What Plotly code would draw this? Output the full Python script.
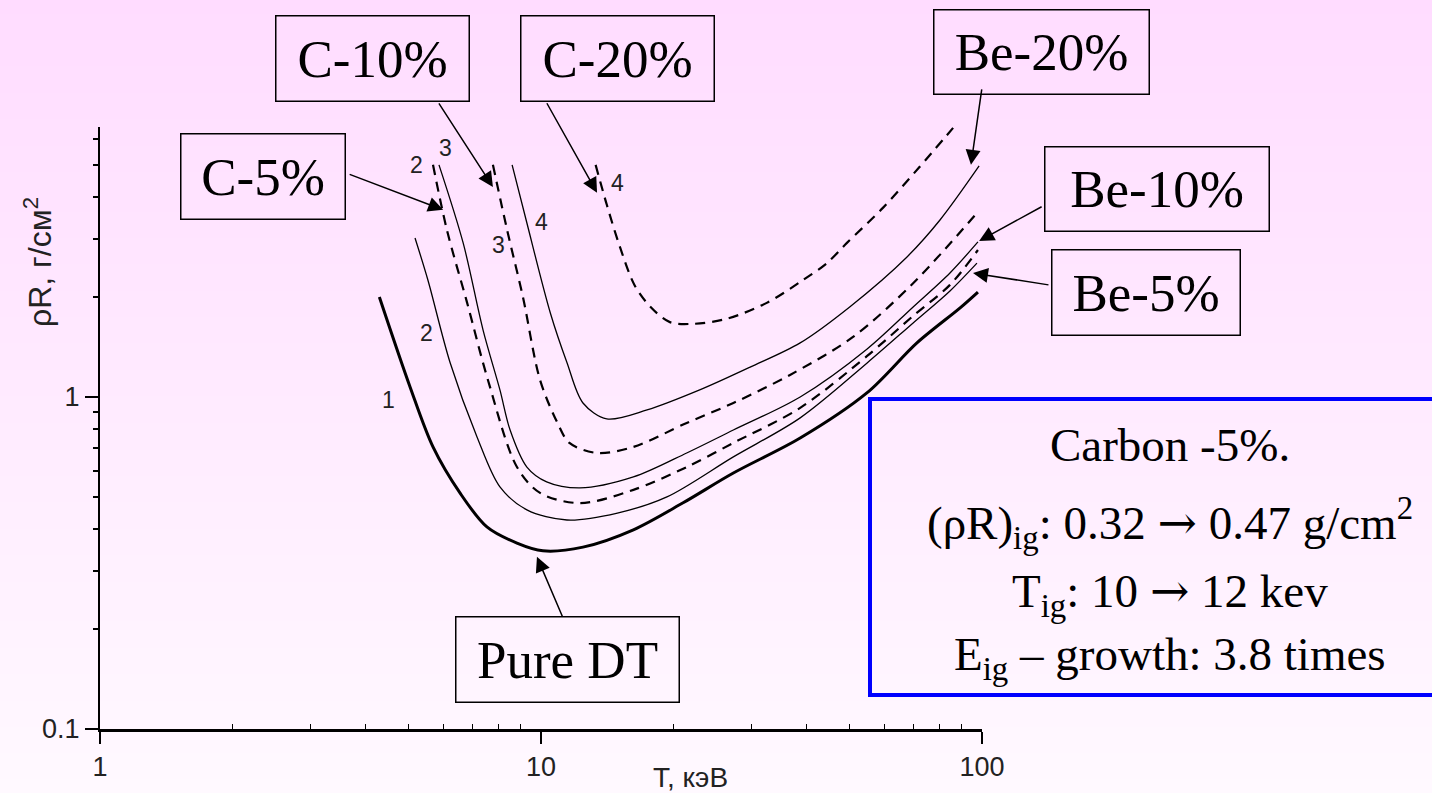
import plotly.graph_objects as go
import numpy as np

# ---------------- data ----------------
T_DT = [4.30, 5.05, 5.69, 6.55, 7.54, 8.82, 10.1, 12.45, 16.2, 21.0, 27.3, 38.7, 54.9, 71.2, 89.2, 97.9]
R_DT = [2.00, 1.07, 0.707, 0.514, 0.406, 0.363, 0.344, 0.353, 0.398, 0.480, 0.590, 0.752, 1.03, 1.455, 1.855, 2.07]

T_BE5 = [5.18, 5.54, 6.22, 7.16, 8.07, 9.29, 11.45, 14.9, 19.3, 27.3, 38.7, 54.9, 69.8, 84.6, 97.4]
R_BE5 = [3.01, 2.25, 1.27, 0.758, 0.536, 0.457, 0.426, 0.447, 0.500, 0.660, 0.865, 1.266, 1.671, 2.086, 2.53]

T_C5 = [5.69, 6.12, 6.80, 7.58, 8.82, 9.95, 12.26, 16.2, 21.4, 27.3, 38.7, 54.9, 69.8, 84.6, 97.9]
R_C5 = [5.00, 3.18, 1.92, 1.125, 0.615, 0.514, 0.479, 0.525, 0.615, 0.727, 0.927, 1.329, 1.754, 2.175, 2.77]

T_BE10 = [5.87, 6.66, 7.39, 8.07, 8.51, 9.29, 10.3, 12.26, 16.2, 21.4, 27.3, 38.7, 54.9, 69.8, 84.6, 97.9]
R_BE10 = [5.00, 2.91, 1.59, 1.05, 0.795, 0.615, 0.555, 0.532, 0.574, 0.678, 0.795, 1.00, 1.395, 1.867, 2.363, 2.93]

T_C10 = [7.78, 8.38, 9.10, 9.95, 10.9, 11.6, 13.4, 16.2, 21.4, 27.3, 36.7, 51.0, 69.8, 97.9]
R_C10 = [5.00, 3.18, 2.00, 1.125, 0.835, 0.727, 0.678, 0.707, 0.835, 0.959, 1.165, 1.516, 2.20, 3.61]

T_BE20 = [8.60, 9.29, 10.5, 11.45, 12.45, 14.1, 17.4, 22.9, 29.8, 38.7, 50.2, 67.6, 80.3, 98.5]
R_BE20 = [5.00, 3.34, 1.79, 1.27, 0.959, 0.859, 0.914, 1.05, 1.23, 1.455, 1.87, 2.64, 3.41, 4.96]

T_C20 = [13.3, 14.1, 15.1, 16.3, 17.7, 19.6, 22.1, 26.4, 32.5, 39.3, 44.5, 49.4, 59.6, 71.9, 86.0]
R_C20 = [5.00, 3.79, 2.83, 2.17, 1.87, 1.68, 1.66, 1.72, 1.92, 2.25, 2.53, 2.91, 3.71, 4.90, 6.46]

x_tickvals = [1, 10, 100]
x_ticktext = ["1", "10", "100"]
y_tickvals = [0.1, 1]
y_ticktext = ["0.1", "1"]

# curve number labels: (text, T, rhoR)
num_labels = [("1", 4.50, 0.98), ("2", 5.51, 1.56), ("2", 5.23, 5.0), ("3", 6.06, 5.62),
              ("3", 7.99, 2.87), ("4", 10.0, 3.37), ("4", 14.9, 4.41)]

# ---------------- layout geometry ----------------
W, H = 1432, 793
ML, MR, MT, MB = 100, 450, 127, 64
PW, PH = W - ML - MR, H - MT - MB


def px(xp):
    return (xp - ML) / PW


def py(yp):
    return (H - MB - yp) / PH


fig = go.Figure()

thin = dict(color="black", width=1.3)
dash = dict(color="black", width=2.2, dash="10px,7px")
series = [
    (T_DT, R_DT, dict(color="black", width=3)),
    (T_BE5, R_BE5, thin),
    (T_C5, R_C5, dash),
    (T_BE10, R_BE10, thin),
    (T_C10, R_C10, dash),
    (T_BE20, R_BE20, thin),
    (T_C20, R_C20, dash),
]
for tx, ry, ln in series:
    fig.add_trace(go.Scatter(x=tx, y=ry, mode="lines", line=dict(shape="spline", smoothing=0.9, **ln),
                             showlegend=False, hoverinfo="skip"))

annotations = []
for t, xv, yv in num_labels:
    annotations.append(dict(text=t, x=np.log10(xv), y=np.log10(yv), xref="x", yref="y",
                            showarrow=False, font=dict(family="Liberation Sans, Arial", size=23, color="#222")))

serif = "Liberation Serif, Times New Roman"
# boxed labels: text, centre px, size px
boxes = [
    ("C-5%", 262.5, 176, 165, 86),
    ("C-10%", 372, 59, 194, 86),
    ("C-20%", 617, 59, 194, 86),
    ("Be-20%", 1041, 51.5, 216, 85),
    ("Be-10%", 1156.5, 188.5, 225, 85),
    ("Be-5%", 1145.5, 292, 189, 86),
    ("Pure DT", 567, 659, 224, 86),
]
for t, cx, cy, w, h in boxes:
    annotations.append(dict(text=t, x=px(cx), y=py(cy), xref="paper", yref="paper",
                            xanchor="center", yanchor="middle", width=w - 2, height=h - 2,
                            showarrow=False, bordercolor="black", borderwidth=1.5, borderpad=0,
                            font=dict(family=serif, size=53, color="black")))

# arrows: tip (T, rhoR), tail offset in px
arrows = [
    (6.0, 3.66, -95, -36),
    (7.78, 4.29, -55, -85),
    (13.4, 4.12, -51, -91),
    (94.4, 5.0, 11, -77),
    (98.5, 2.95, 64, -35),
    (95.4, 2.36, 77, 12),
    (9.79, 0.33, 26, 61),
]
for tx, ry, dx, dy in arrows:
    annotations.append(dict(text="", x=np.log10(tx), y=np.log10(ry), xref="x", yref="y",
                            ax=dx, ay=dy, showarrow=True, arrowhead=2, arrowsize=2, arrowwidth=1.5,
                            arrowcolor="black", standoff=0, startstandoff=0))

# blue info box text
arr = '<span style="font-family:DejaVu Serif">→</span>'
info = [
    ("Carbon -5%.", 445),
    ("(ρR)<sub>ig</sub>: 0.32 " + arr + " 0.47 g/cm<sup>2</sup>", 523),
    ("T<sub>ig</sub>: 10 " + arr + " 12 kev", 593),
    ("E<sub>ig</sub> – growth: 3.8 times", 657),
]
for t, yy in info:
    annotations.append(dict(text=t, x=px(1170), y=py(yy), xref="paper", yref="paper",
                            xanchor="center", yanchor="middle", showarrow=False,
                            font=dict(family=serif, size=47, color="black")))

# axis titles
annotations.append(dict(text="ρR, г/см<sup>2</sup>", x=px(38), y=py(262), xref="paper", yref="paper",
                        textangle=-90, showarrow=False, xanchor="center", yanchor="middle",
                        font=dict(family="Liberation Sans, Arial", size=32, color="#222")))
annotations.append(dict(text="T, кэВ", x=px(690), y=py(777), xref="paper", yref="paper",
                        showarrow=False, xanchor="center", yanchor="middle",
                        font=dict(family="Liberation Sans, Arial", size=28, color="#222")))

# gradient background
shapes = []
n = 60
top = np.array([255, 220, 255])
bot = np.array([255, 249, 255])
for i in range(n):
    f = (i + 0.5) / n
    c = top + (bot - top) * f
    y0p = H * i / n
    y1p = H * (i + 1) / n + 1
    shapes.append(dict(type="rect", xref="paper", yref="paper", x0=px(-5), x1=px(W + 5),
                       y0=py(y1p), y1=py(y0p), line=dict(width=0),
                       fillcolor="rgb(%d,%d,%d)" % tuple(c.round()), layer="below"))

shapes.append(dict(type="rect", xref="paper", yref="paper", x0=px(870), x1=px(1480),
                   y0=py(695), y1=py(399), line=dict(color="#0000FF", width=4)))

fig.update_layout(
    width=W, height=H, margin=dict(l=ML, r=MR, t=MT, b=MB, autoexpand=False),
    paper_bgcolor="rgb(255,249,255)", plot_bgcolor="rgba(0,0,0,0)",
    showlegend=False, annotations=annotations, shapes=shapes,
    xaxis=dict(type="log", range=[0, 2], tickvals=x_tickvals, ticktext=x_ticktext,
               ticks="outside", ticklen=12, tickwidth=1.5, tickcolor="black",
               showline=True, linecolor="black", linewidth=3, showgrid=False, zeroline=False,
               minor=dict(ticks="inside", ticklen=5, tickwidth=1, tickcolor="black",
                          tickvals=[2, 3, 4, 5, 6, 7, 8, 9, 20, 30, 40, 50, 60, 70, 80, 90]),
               tickfont=dict(family="Liberation Sans, Arial", size=27, color="#222")),
    yaxis=dict(type="log", range=[-1, np.log10(6.5)], tickvals=y_tickvals, ticktext=y_ticktext,
               ticks="outside", ticklen=13, tickwidth=1.5, tickcolor="black",
               showline=True, linecolor="black", linewidth=2, showgrid=False, zeroline=False,
               minor=dict(ticks="outside", ticklen=5, tickwidth=1.5, tickcolor="black",
                          tickvals=[0.2, 0.3, 0.4, 0.5, 0.6, 0.7, 0.8, 0.9, 2, 3, 4, 5, 6]),
               tickfont=dict(family="Liberation Sans, Arial", size=27, color="#222")),
)

fig.write_html("out.html")
